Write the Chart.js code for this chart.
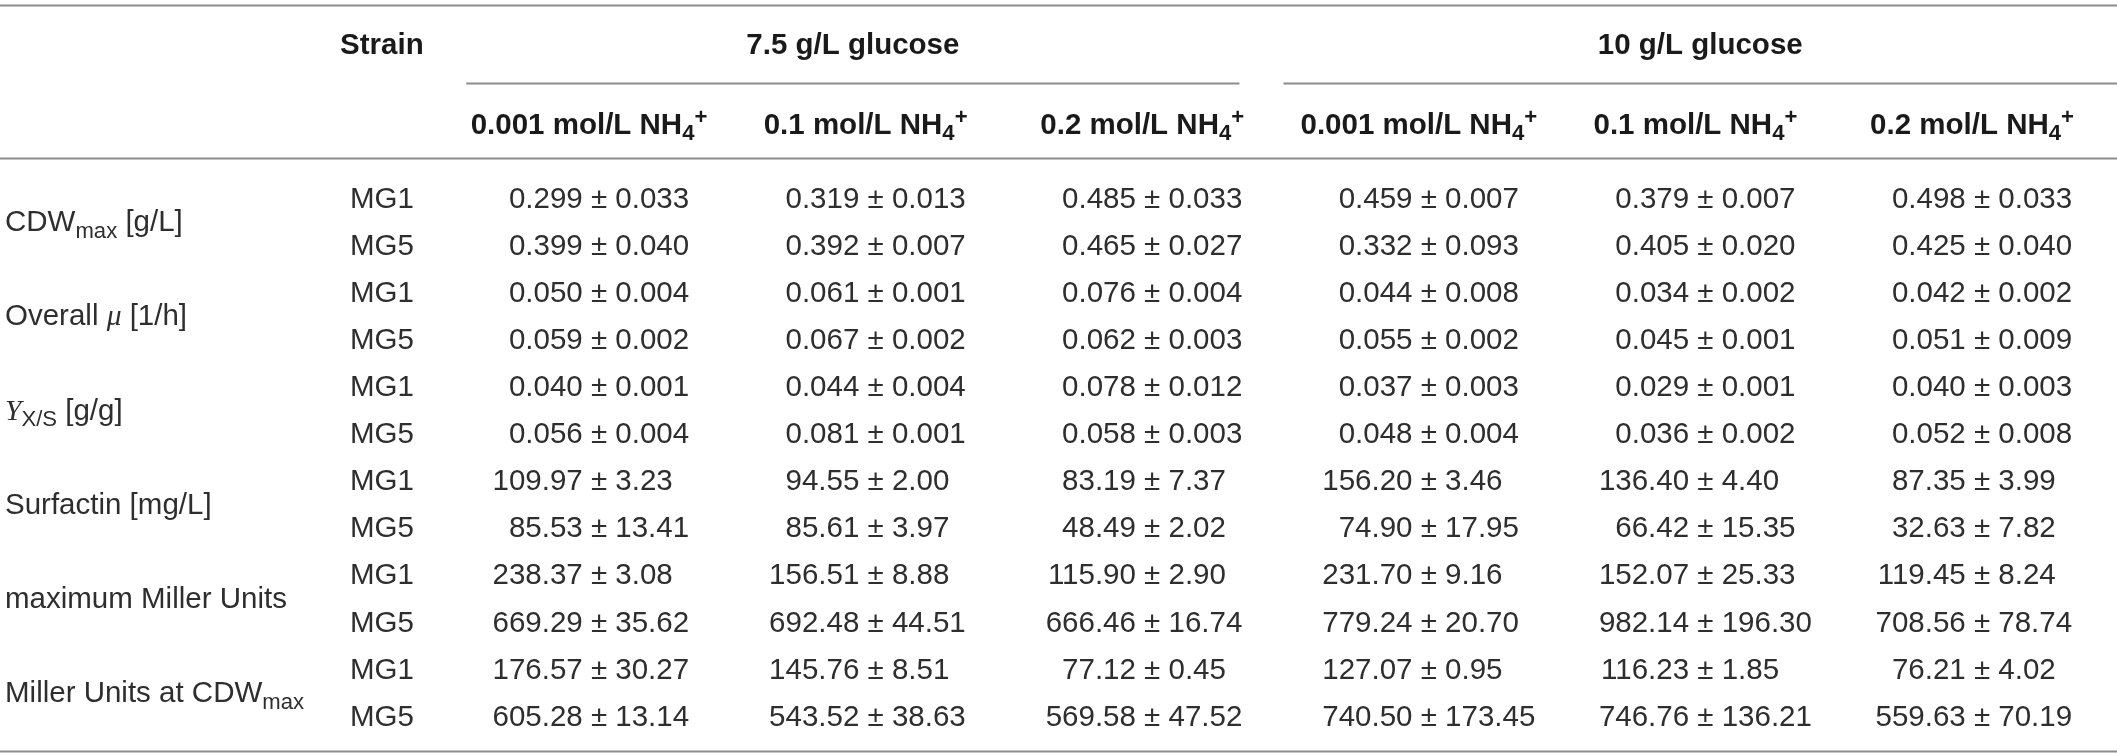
<!DOCTYPE html>
<html lang="en">
<head>
  <meta charset="UTF-8" />
  <title>MG1 / MG5 cultivation parameters</title>
  <script src="https://cdn.jsdelivr.net/npm/chart.js"></script>
  <style>
    html, body { margin: 0; padding: 0; background: #fff; }
    #wrap { width: 2117px; height: 756px; }
  </style>
</head>
<body>
  <div id="wrap"><canvas id="tableChart" width="2117" height="756"></canvas></div>

  <script>
    // headers
    const glucoseGroups = ['7.5 g/L glucose', '10 g/L glucose'];
    const ammonium = ['0.001', '0.1', '0.2', '0.001', '0.1', '0.2'];
    const strains = ['MG1', 'MG5'];
    const metrics = ['CDW_{max} [g/L]', 'Overall *μ* [1/h]', '*Y*_{X/S} [g/g]',
                     'Surfactin [mg/L]', 'maximum Miller Units', 'Miller Units at CDW_{max}'];
    const decimals = [3, 3, 3, 2, 2, 2];

    // values: [MG1 row, MG5 row], one entry per condition
    const cdwMean   = [[0.299, 0.319, 0.485, 0.459, 0.379, 0.498], [0.399, 0.392, 0.465, 0.332, 0.405, 0.425]];
    const cdwSd     = [[0.033, 0.013, 0.033, 0.007, 0.007, 0.033], [0.040, 0.007, 0.027, 0.093, 0.020, 0.040]];
    const muMean    = [[0.050, 0.061, 0.076, 0.044, 0.034, 0.042], [0.059, 0.067, 0.062, 0.055, 0.045, 0.051]];
    const muSd      = [[0.004, 0.001, 0.004, 0.008, 0.002, 0.002], [0.002, 0.002, 0.003, 0.002, 0.001, 0.009]];
    const yieldMean = [[0.040, 0.044, 0.078, 0.037, 0.029, 0.040], [0.056, 0.081, 0.058, 0.048, 0.036, 0.052]];
    const yieldSd   = [[0.001, 0.004, 0.012, 0.003, 0.001, 0.003], [0.004, 0.001, 0.003, 0.004, 0.002, 0.008]];
    const surfMean  = [[109.97, 94.55, 83.19, 156.20, 136.40, 87.35], [85.53, 85.61, 48.49, 74.90, 66.42, 32.63]];
    const surfSd    = [[3.23, 2.00, 7.37, 3.46, 4.40, 3.99], [13.41, 3.97, 2.02, 17.95, 15.35, 7.82]];
    const maxMuMean = [[238.37, 156.51, 115.90, 231.70, 152.07, 119.45], [669.29, 692.48, 666.46, 779.24, 982.14, 708.56]];
    const maxMuSd   = [[3.08, 8.88, 2.90, 9.16, 25.33, 8.24], [35.62, 44.51, 16.74, 20.70, 196.30, 78.74]];
    const muCdwMean = [[176.57, 145.76, 77.12, 127.07, 116.23, 76.21], [605.28, 543.52, 569.58, 740.50, 746.76, 559.63]];
    const muCdwSd   = [[30.27, 8.51, 0.45, 0.95, 1.85, 4.02], [13.14, 38.63, 47.52, 173.45, 136.21, 70.19]];

    const means = [cdwMean, muMean, yieldMean, surfMean, maxMuMean, muCdwMean];
    const sds = [cdwSd, muSd, yieldSd, surfSd, maxMuSd, muCdwSd];

    // layout in scale units (x: condition column, y: table row)
    const STRAIN_COL = -0.785;
    const GROUP_SPANS = [[-0.48, 2.395], [2.395, null]];
    const ROW_GROUP = -3.27, ROW_HEAD = -1.571;
    const LINE_TOP = -4.076, LINE_SUB = -2.42, LINE_HEAD = -0.828, LINE_BOTTOM = 11.762;
    const FS = 29.5;
    const BODY = '#2e2e2e', HEAD = '#1a1a1a', RULE = '#8c8c8c';

    function parseRich(s) {
      const segs = [];
      const re = /_\{([^}]*)\}|\^\{([^}]*)\}|\*([^*]*)\*|([^_^*]+)/g;
      let m;
      while ((m = re.exec(s))) {
        if (m[1] !== undefined) segs.push({ t: m[1], mode: 'sub' });
        else if (m[2] !== undefined) segs.push({ t: m[2], mode: 'sup' });
        else if (m[3] !== undefined) segs.push({ t: m[3], mode: 'it' });
        else segs.push({ t: m[4], mode: '' });
      }
      return segs;
    }

    function segFont(sg, size, bold) {
      const s = (sg.mode === 'sub' || sg.mode === 'sup') ? size * 0.75 : size;
      if (sg.mode === 'it') return `italic ${s}px "Liberation Serif", serif`;
      return `${bold ? 'bold ' : ''}${s}px "Liberation Sans", Arial, sans-serif`;
    }

    function drawRich(ctx, text, x, y, size, bold, align) {
      const segs = parseRich(text);
      let w = 0;
      segs.forEach(sg => { ctx.font = segFont(sg, size, bold); w += ctx.measureText(sg.t).width; });
      let cx = align === 'center' ? x - w / 2 : align === 'right' ? x - w : x;
      const base = y + size * 0.36;
      ctx.textAlign = 'left';
      ctx.textBaseline = 'alphabetic';
      segs.forEach(sg => {
        ctx.font = segFont(sg, size, bold);
        let by = base;
        if (sg.mode === 'sub') by = base + size * 0.22;
        if (sg.mode === 'sup') by = base - size * 0.33;
        ctx.fillText(sg.t, cx, by);
        cx += ctx.measureText(sg.t).width;
      });
    }

    function hline(ctx, x1, x2, y) {
      ctx.beginPath();
      ctx.moveTo(x1, Math.round(y) + 0.5);
      ctx.lineTo(x2, Math.round(y) + 0.5);
      ctx.stroke();
    }

    const tablePlugin = {
      id: 'tablePlugin',
      afterDatasetsDraw(chart) {
        const ctx = chart.ctx;
        const xs = chart.scales.x, ys = chart.scales.y, area = chart.chartArea;
        ctx.save();

        // rules
        ctx.strokeStyle = RULE;
        ctx.lineWidth = 2;
        [LINE_TOP, LINE_HEAD, LINE_BOTTOM].forEach(v => hline(ctx, area.left, area.right, ys.getPixelForValue(v)));
        GROUP_SPANS.forEach(([a, b], g) => {
          const x1 = g === 0 ? xs.getPixelForValue(a) : xs.getPixelForValue(a) + 22;
          const x2 = b === null ? area.right : xs.getPixelForValue(b) - 22;
          hline(ctx, x1, x2, ys.getPixelForValue(LINE_SUB));
        });

        // header rows
        ctx.fillStyle = HEAD;
        drawRich(ctx, 'Strain', xs.getPixelForValue(STRAIN_COL), ys.getPixelForValue(ROW_GROUP), FS, true, 'center');
        glucoseGroups.forEach((label, g) => {
          const [a, b] = GROUP_SPANS[g];
          const x1 = g === 0 ? xs.getPixelForValue(a) : xs.getPixelForValue(a) + 22;
          const x2 = b === null ? area.right : xs.getPixelForValue(b) - 22;
          drawRich(ctx, label, (x1 + x2) / 2, ys.getPixelForValue(ROW_GROUP), FS, true, 'center');
        });
        ammonium.forEach((a, j) => {
          drawRich(ctx, a + ' mol/L NH_{4}^{+}', xs.getPixelForValue(j) - 10, ys.getPixelForValue(ROW_HEAD), FS, true, 'center');
        });

        // row labels
        ctx.fillStyle = BODY;
        metrics.forEach((m, k) => {
          drawRich(ctx, m, area.left + 5, ys.getPixelForValue(2 * k + 0.5), FS, false, 'left');
          strains.forEach((s, si) => {
            drawRich(ctx, s, xs.getPixelForValue(STRAIN_COL), ys.getPixelForValue(2 * k + si), FS, false, 'center');
          });
        });

        // cells, placed on the dataset points
        ctx.font = `${FS}px "Liberation Sans", Arial, sans-serif`;
        ctx.textBaseline = 'alphabetic';
        const pmW = ctx.measureText('±').width, sp = ctx.measureText(' ').width;
        chart.data.datasets.forEach((ds, j) => {
          chart.getDatasetMeta(j).data.forEach((el, i) => {
            const raw = ds.data[i];
            const base = el.y + FS * 0.36;
            ctx.textAlign = 'right';
            ctx.fillText(raw.mean, el.x - pmW / 2 - sp, base);
            ctx.textAlign = 'center';
            ctx.fillText('±', el.x, base);
            ctx.textAlign = 'left';
            ctx.fillText(raw.sd, el.x + pmW / 2 + sp, base);
          });
        });
        ctx.restore();
      }
    };

    // one scatter dataset per condition column, one point per table row
    const datasets = ammonium.map((a, j) => {
      const data = [];
      metrics.forEach((m, k) => {
        strains.forEach((s, si) => {
          data.push({
            x: j,
            y: 2 * k + si,
            mean: means[k][si][j].toFixed(decimals[k]),
            sd: sds[k][si][j].toFixed(decimals[k])
          });
        });
      });
      return { label: a, data: data, pointRadius: 0, pointHoverRadius: 0, showLine: false };
    });

    new Chart(document.getElementById('tableChart'), {
      type: 'scatter',
      data: { datasets: datasets },
      options: {
        responsive: false,
        animation: false,
        events: [],
        layout: { padding: 0 },
        plugins: { legend: { display: false }, tooltip: { enabled: false } },
        scales: {
          x: { type: 'linear', display: false, min: -2.1656, max: 5.488 },
          y: { type: 'linear', display: false, reverse: true, min: -4.1826, max: 11.868 }
        }
      },
      plugins: [tablePlugin]
    });
  </script>
</body>
</html>
